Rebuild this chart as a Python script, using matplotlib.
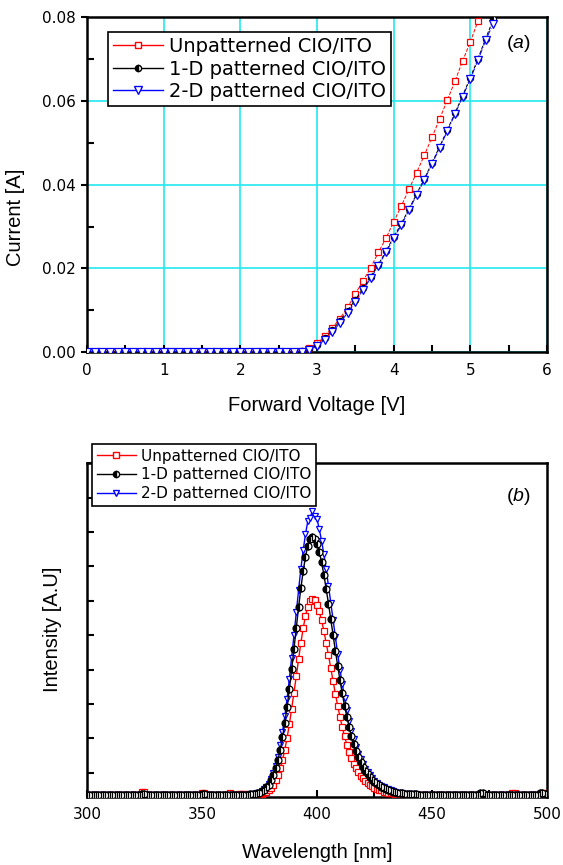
## Import Required Libraries

import numpy as np
import matplotlib
matplotlib.use("Agg")
import matplotlib.pyplot as plt
from matplotlib.lines import Line2D

plt.rcParams['mathtext.fontset'] = 'custom'
plt.rcParams['mathtext.rm'] = 'Liberation Sans'
plt.rcParams['mathtext.it'] = 'Liberation Sans:italic'

## Data - panel (a): I-V curves

labels = ["Unpatterned CIO/ITO", "1-D patterned CIO/ITO", "2-D patterned CIO/ITO"]

voltage_red = np.round(np.arange(0, 5.11, 0.1), 1)
current_red = [
    0.0, 0.0, 0.0, 0.0, 0.0, 0.0, 0.0, 0.0, 0.0, 0.0,
    0.0, 0.0, 0.0, 0.0, 0.0, 0.0, 0.0, 0.0, 0.0, 0.0,
    0.0, 0.0, 0.0, 0.0, 0.0, 0.0, 0.0, 0.0001, 0.0003, 0.0009,
    0.0021, 0.0038, 0.0058, 0.0080, 0.0107, 0.0139, 0.0170, 0.0201, 0.0238, 0.0272,
    0.0311, 0.0349, 0.0389, 0.0429, 0.0470, 0.0513, 0.0557, 0.0602, 0.0647, 0.0696,
    0.0741, 0.0791,
]

voltage_blk = np.round(np.arange(0, 5.31, 0.1), 1)
current_blk = [
    0.0, 0.0, 0.0, 0.0, 0.0, 0.0, 0.0, 0.0, 0.0, 0.0,
    0.0, 0.0, 0.0, 0.0, 0.0, 0.0, 0.0, 0.0, 0.0, 0.0,
    0.0, 0.0, 0.0, 0.0, 0.0, 0.0, 0.0, 0.0, 0.0002, 0.0007,
    0.0017, 0.0033, 0.0052, 0.0075, 0.0099, 0.0125, 0.0152, 0.0180, 0.0209, 0.0241,
    0.0275, 0.0307, 0.0342, 0.0378, 0.0414, 0.0452, 0.0491, 0.0531, 0.0571, 0.0613,
    0.0656, 0.0701, 0.0749, 0.0795,
]

voltage_blu = np.round(np.arange(0, 5.31, 0.1), 1)
current_blu = [
    0.0, 0.0, 0.0, 0.0, 0.0, 0.0, 0.0, 0.0, 0.0, 0.0,
    0.0, 0.0, 0.0, 0.0, 0.0, 0.0, 0.0, 0.0, 0.0, 0.0,
    0.0, 0.0, 0.0, 0.0, 0.0, 0.0, 0.0, 0.0, 0.0001, 0.0005,
    0.0014, 0.0029, 0.0047, 0.0070, 0.0094, 0.0120, 0.0148, 0.0176, 0.0206, 0.0238,
    0.0272, 0.0303, 0.0339, 0.0375, 0.0411, 0.0449, 0.0488, 0.0528, 0.0568, 0.0610,
    0.0652, 0.0697, 0.0745, 0.0785,
]

## Data - panel (b): EL spectra (1 nm steps)

wl_left = np.arange(300, 370, 1)
wl_peak = np.arange(370, 451, 1)
wl_right = np.arange(451, 501, 1)

red_left = [
    0.0, 0.0, 0.0, 0.0, 0.0, 0.0, 0.0, 0.0, 0.0, 0.0,
    0.0, 0.0, 0.0, 0.0, 0.0, 0.0, 0.0, 0.0, 0.0, 0.0,
    0.0, 0.0, 0.0, 0.0, 0.08, 0.08, 0.0, 0.0, 0.0, 0.0,
    0.0, 0.0, 0.0, 0.0, 0.0, 0.0, 0.0, 0.0, 0.0, 0.0,
    0.0, 0.0, 0.0, 0.0, 0.0, 0.0, 0.0, 0.0, 0.0, 0.0,
    0.06, 0.06, 0.0, 0.0, 0.0, 0.0, 0.0, 0.0, 0.0, 0.0,
    0.0, 0.0, 0.05, 0.0, 0.0, 0.0, 0.04, 0.04, 0.03, 0.02,
]
red_peak = [
    0.01, 0.01, 0.01, 0.01, 0.02, 0.03, 0.04, 0.06, 0.10, 0.14,
    0.21, 0.30, 0.42, 0.58, 0.77, 1.01, 1.31, 1.66, 2.05, 2.50,
    2.97, 3.46, 3.95, 4.42, 4.84, 5.20, 5.47, 5.64, 5.70, 5.65,
    5.53, 5.33, 5.07, 4.77, 4.42, 4.06, 3.68, 3.31, 2.94, 2.59,
    2.27, 1.97, 1.70, 1.46, 1.25, 1.07, 0.91, 0.78, 0.66, 0.56,
    0.48, 0.41, 0.35, 0.30, 0.25, 0.21, 0.18, 0.15, 0.13, 0.10,
    0.09, 0.07, 0.06, 0.05, 0.04, 0.03, 0.03, 0.02, 0.02, 0.01,
    0.01, 0.01, 0.01, 0.0, 0.0, 0.0, 0.0, 0.0, 0.0, 0.0, 0.0,
]
red_right = [
    0.0, 0.0, 0.0, 0.0, 0.0, 0.0, 0.0, 0.0, 0.0, 0.0,
    0.0, 0.0, 0.0, 0.0, 0.0, 0.0, 0.0, 0.0, 0.0, 0.0,
    0.0, 0.0, 0.0, 0.0, 0.0, 0.0, 0.0, 0.0, 0.0, 0.0,
    0.0, 0.0, 0.0, 0.0, 0.05, 0.05, 0.0, 0.0, 0.0, 0.0,
    0.0, 0.0, 0.0, 0.0, 0.0, 0.0, 0.0, 0.05, 0.05, 0.0,
]

blk_left = [
    0.01, 0.01, 0.01, 0.01, 0.01, 0.01, 0.01, 0.01, 0.01, 0.01,
    0.01, 0.01, 0.01, 0.01, 0.01, 0.01, 0.01, 0.01, 0.01, 0.01,
    0.01, 0.01, 0.01, 0.01, 0.02, 0.02, 0.01, 0.01, 0.01, 0.01,
    0.01, 0.01, 0.01, 0.01, 0.01, 0.01, 0.01, 0.01, 0.01, 0.01,
    0.01, 0.01, 0.01, 0.01, 0.01, 0.01, 0.01, 0.01, 0.01, 0.01,
    0.02, 0.02, 0.01, 0.01, 0.01, 0.01, 0.01, 0.01, 0.01, 0.01,
    0.01, 0.01, 0.01, 0.01, 0.01, 0.01, 0.01, 0.01, 0.01, 0.01,
]
blk_peak = [
    0.01, 0.02, 0.02, 0.03, 0.05, 0.07, 0.11, 0.15, 0.22, 0.30,
    0.42, 0.58, 0.77, 1.01, 1.31, 1.67, 2.09, 2.56, 3.08, 3.65,
    4.25, 4.85, 5.45, 6.01, 6.50, 6.92, 7.24, 7.43, 7.50, 7.45,
    7.30, 7.07, 6.76, 6.40, 5.99, 5.56, 5.10, 4.64, 4.19, 3.75,
    3.33, 2.95, 2.59, 2.27, 1.97, 1.71, 1.48, 1.28, 1.10, 0.95,
    0.81, 0.70, 0.60, 0.52, 0.44, 0.38, 0.32, 0.28, 0.23, 0.20,
    0.17, 0.14, 0.12, 0.10, 0.08, 0.07, 0.06, 0.05, 0.04, 0.03,
    0.03, 0.02, 0.02, 0.02, 0.01, 0.01, 0.01, 0.01, 0.01, 0.01, 0.01,
]
blk_right = [
    0.01, 0.01, 0.01, 0.01, 0.01, 0.01, 0.01, 0.01, 0.01, 0.01,
    0.01, 0.01, 0.01, 0.01, 0.01, 0.01, 0.01, 0.01, 0.01, 0.01,
    0.05, 0.05, 0.01, 0.01, 0.01, 0.01, 0.01, 0.01, 0.01, 0.01,
    0.01, 0.01, 0.01, 0.01, 0.01, 0.01, 0.01, 0.01, 0.01, 0.01,
    0.01, 0.01, 0.01, 0.01, 0.01, 0.01, 0.06, 0.06, 0.02, 0.02,
]

blu_left = [
    0.0, 0.0, 0.0, 0.0, 0.0, 0.0, 0.0, 0.0, 0.0, 0.0,
    0.0, 0.0, 0.0, 0.0, 0.0, 0.0, 0.0, 0.0, 0.0, 0.0,
    0.0, 0.0, 0.0, 0.0, 0.0, 0.0, 0.0, 0.0, 0.0, 0.0,
    0.0, 0.0, 0.0, 0.0, 0.0, 0.0, 0.0, 0.0, 0.0, 0.0,
    0.0, 0.0, 0.0, 0.0, 0.0, 0.0, 0.0, 0.0, 0.0, 0.0,
    0.0, 0.0, 0.0, 0.0, 0.0, 0.0, 0.0, 0.0, 0.0, 0.0,
    0.0, 0.0, 0.0, 0.0, 0.0, 0.0, 0.0, 0.0, 0.0, 0.0,
]
blu_peak = [
    0.01, 0.02, 0.02, 0.03, 0.05, 0.07, 0.11, 0.16, 0.24, 0.33,
    0.46, 0.63, 0.84, 1.11, 1.44, 1.83, 2.28, 2.80, 3.37, 3.99,
    4.64, 5.31, 5.95, 6.57, 7.11, 7.57, 7.95, 8.05, 8.25, 8.10,
    8.02, 7.72, 7.39, 6.99, 6.55, 6.08, 5.58, 5.08, 4.58, 4.10,
    3.64, 3.22, 2.83, 2.48, 2.16, 1.87, 1.62, 1.39, 1.20, 1.03,
    0.89, 0.76, 0.66, 0.57, 0.48, 0.41, 0.35, 0.30, 0.25, 0.22,
    0.18, 0.16, 0.13, 0.11, 0.09, 0.07, 0.06, 0.05, 0.04, 0.03,
    0.03, 0.02, 0.02, 0.02, 0.01, 0.01, 0.01, 0.01, 0.0, 0.0, 0.0,
]
blu_right = [
    0.0, 0.0, 0.0, 0.0, 0.0, 0.0, 0.0, 0.0, 0.0, 0.0,
    0.0, 0.0, 0.0, 0.0, 0.0, 0.0, 0.0, 0.0, 0.0, 0.0,
    0.0, 0.0, 0.0, 0.0, 0.0, 0.0, 0.0, 0.0, 0.0, 0.0,
    0.0, 0.0, 0.0, 0.0, 0.0, 0.0, 0.0, 0.0, 0.0, 0.0,
    0.0, 0.0, 0.0, 0.0, 0.0, 0.0, 0.0, 0.0, 0.0, 0.0,
]

## Figure

fig = plt.figure(figsize=(5.63, 8.65), dpi=100)
ax1 = fig.add_axes([0.1545, 0.593, 0.817, 0.387])
ax2 = fig.add_axes([0.1545, 0.0786, 0.817, 0.386])

label_font = dict(family='Liberation Sans', size=14.5)

## Panel (a)

ax1.plot(voltage_red, current_red, color='red', ls='--', lw=0.7, marker='s',
         ms=4, mfc='white', mec='red', mew=0.9, zorder=3)
ax1.plot(voltage_blk, current_blk, color='black', ls='--', lw=0.7, marker='o',
         ms=4.5, fillstyle='left', mfc='black', mfcalt='white', mec='black',
         mew=0.8, zorder=3)
ax1.plot(voltage_blu, current_blu, color='blue', ls='-.', lw=0.7, marker='v',
         ms=6, mfc='white', mec='blue', mew=0.9, zorder=4)

ax1.set_xlim(0, 6)
ax1.set_ylim(0, 0.08)
ax1.set_xticks(np.arange(0, 7, 1))
ax1.set_xticks(np.arange(0.5, 6, 1), minor=True)
ax1.set_yticks(np.arange(0, 0.081, 0.02))
ax1.set_yticks(np.arange(0.01, 0.08, 0.02), minor=True)
ax1.yaxis.set_major_formatter(plt.FormatStrFormatter('%.2f'))
ax1.grid(True, which='major', color='#22E8F0', lw=1.2, zorder=0)
ax1.tick_params(axis='x', which='both', direction='in', length=5, width=1.5,
                labelsize=11, pad=8)
ax1.tick_params(axis='y', which='major', direction='out', length=4, width=1.5,
                labelsize=11, pad=4)
ax1.tick_params(axis='y', which='minor', direction='in', length=5, width=1.5)
for s in ax1.spines.values():
    s.set_linewidth(1.8)

ax1.set_xlabel("Forward Voltage [V]", **label_font)
ax1.xaxis.set_label_coords(0.5, -0.131)
ax1.set_ylabel("Current [A]", **label_font)
ax1.yaxis.set_label_coords(-0.135, 0.403)
ax1.text(0.937, 0.922, r'($\mathit{a}$)', transform=ax1.transAxes,
         family='Liberation Sans', fontsize=14, ha='center', va='center')

handles_a = [
    Line2D([], [], color='red', lw=1, marker='s', ms=4, mfc='white', mec='red'),
    Line2D([], [], color='black', lw=1, marker='o', ms=4.5, fillstyle='left',
           mfc='black', mfcalt='white', mec='black'),
    Line2D([], [], color='blue', lw=1, marker='v', ms=5.5, mfc='white', mec='blue'),
]
leg1 = ax1.legend(handles_a, labels, loc='upper left', bbox_to_anchor=(0.0457, 0.955),
                  borderaxespad=0, fancybox=False, edgecolor='black', framealpha=1,
                  prop=dict(family='DejaVu Sans', size=14), handlelength=2.6,
                  handletextpad=0.3, labelspacing=0.18, borderpad=0.25, numpoints=1)
leg1.get_frame().set_linewidth(1.2)
leg1.set_zorder(6)

## Panel (b)

wl = np.concatenate([wl_left, wl_peak, wl_right])
blu = np.concatenate([blu_left, blu_peak, blu_right])
blk = np.concatenate([blk_left, blk_peak, blk_right])
red = np.concatenate([red_left, red_peak, red_right])

# red underneath, black on top so the baseline reads as a black band
ax2.plot(wl, red, color='red', lw=1.0, marker='s', ms=4.5, mfc='white',
         mec='red', mew=0.9, zorder=3)
ax2.plot(wl, blu, color='blue', lw=1.0, marker='v', ms=5, mfc='white',
         mec='blue', mew=0.9, zorder=4)
ax2.plot(wl, blk, color='black', lw=1.0, marker='o', ms=5, fillstyle='left',
         mfc='black', mfcalt='white', mec='black', mew=0.9, zorder=5)

ax2.set_xlim(300, 500)
ax2.set_ylim(-0.06, 9.62)
ax2.set_xticks(np.arange(300, 501, 50))
ax2.set_xticks(np.arange(325, 500, 50), minor=True)
ax2.set_yticks(np.arange(0.64, 9.7, 1.0))
ax2.set_yticklabels([])
ax2.tick_params(axis='both', which='both', direction='in', length=5, width=1.5,
                labelsize=11)
ax2.tick_params(axis='x', pad=7)
for s in ax2.spines.values():
    s.set_linewidth(1.8)

ax2.set_xlabel("Wavelength [nm]", **label_font)
ax2.xaxis.set_label_coords(0.5, -0.138)
ax2.set_ylabel("Intensity [A.U]", **label_font)
ax2.yaxis.set_label_coords(-0.054, 0.502)
ax2.text(0.937, 0.899, r'($\mathit{b}$)', transform=ax2.transAxes,
         family='Liberation Sans', fontsize=14, ha='center', va='center')

handles_b = [
    Line2D([], [], color='red', lw=1, marker='s', ms=4, mfc='white', mec='red'),
    Line2D([], [], color='black', lw=1, marker='o', ms=4.5, fillstyle='left',
           mfc='black', mfcalt='white', mec='black'),
    Line2D([], [], color='blue', lw=1, marker='v', ms=5, mfc='white', mec='blue'),
]
leg2 = ax2.legend(handles_b, labels, loc='upper left', bbox_to_anchor=(0.011, 1.057),
                  borderaxespad=0, fancybox=False, edgecolor='black', framealpha=1,
                  prop=dict(family='DejaVu Sans', size=11), handlelength=2.6,
                  handletextpad=0.3, labelspacing=0.25, borderpad=0.3, numpoints=1)
leg2.get_frame().set_linewidth(1.2)
leg2.set_zorder(6)

## Save Graph

fig.savefig("out.png", dpi=100)
